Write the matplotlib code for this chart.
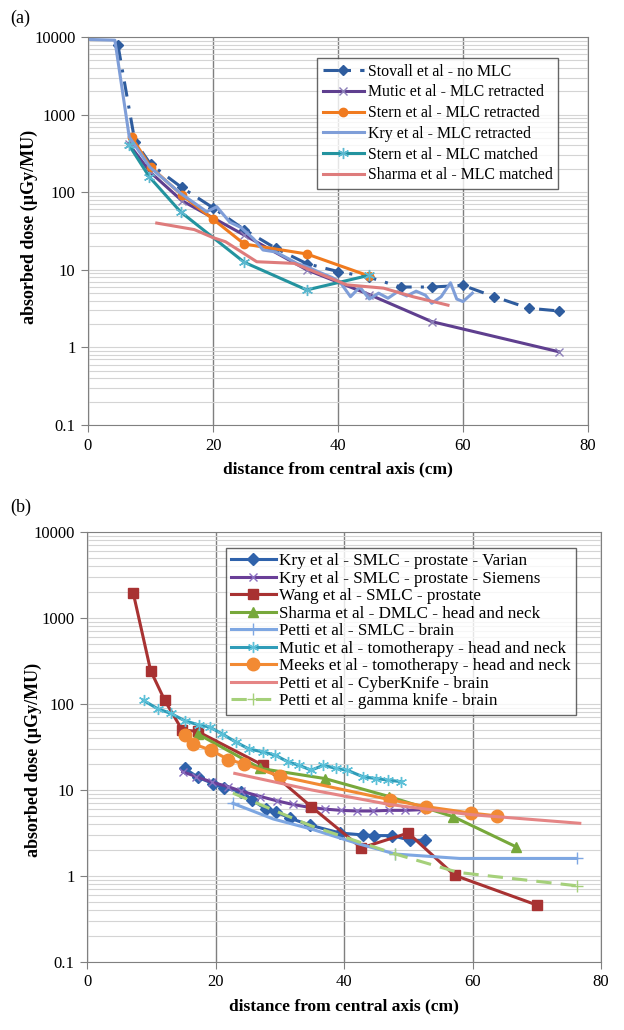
import numpy as np
import matplotlib
matplotlib.use('Agg')
import matplotlib.pyplot as plt
from matplotlib.ticker import LogLocator, NullFormatter

# ---- panel (a) data ----
stovall_x = [4.8, 7.5, 10, 15, 20, 25, 30, 35, 40, 45, 50, 55, 60, 65, 70.5, 75.3]
stovall_y = [7800, 450, 230, 115, 63, 33, 19, 12, 9.5, 8, 6.0, 6.0, 6.3, 4.5, 3.2, 2.95]

mutic_a_x = [6.5, 10, 15, 25, 35, 45, 55, 75.3]
mutic_a_y = [420, 180, 78, 28, 10, 4.8, 2.15, 0.88]

stern_ret_x = [7, 10, 15, 20, 25, 35, 45]
stern_ret_y = [510, 212, 92, 45, 21.5, 16, 8.3]

kry_a_x = [0.3, 4.3, 6.6, 9.9, 14.7, 19, 20.6, 22.7, 24.5, 26.5, 28, 30, 32, 33.5, 35, 37, 39,
           40.3, 42, 43.5, 45, 46.5, 48, 49.5, 51, 52.5, 54, 55, 56.5, 58, 59, 60, 61.5]
kry_a_y = [9300, 9100, 515, 210, 98, 56, 65, 41, 35, 25, 18, 17, 14, 12, 11, 9.3, 8,
           7, 4.5, 6, 4.2, 5, 4.3, 5.2, 4.6, 5.3, 4.7, 3.7, 4.5, 6.8, 4.2, 3.9, 5]

stern_mat_x = [6.6, 9.8, 14.8, 25, 35, 45]
stern_mat_y = [400, 158, 56, 12.5, 5.5, 8.5]

sharma_a_x = [11, 17, 20, 22, 27, 33, 41.4, 47.3, 52, 57.6]
sharma_a_y = [40, 33, 26, 23, 12.7, 12.1, 6.4, 5.8, 4.5, 3.5]

# ---- panel (b) data ----
kryv_x = [15.2, 17.3, 19.6, 21.3, 24, 25.7, 27.8, 29.4, 31.6, 34.7, 39.4, 43, 44.7, 47.5, 50.3, 52.6]
kryv_y = [17.8, 14, 11.9, 10.6, 9.6, 7.7, 6.0, 5.6, 4.7, 3.9, 3.16, 3.0, 2.95, 2.95, 2.6, 2.6]

krys_x = [14.9, 17, 19.5, 22, 24, 27, 29.5, 32, 34.5, 37, 39.5, 42, 44.5, 47, 49.5, 52]
krys_y = [16.3, 14.3, 12.3, 10.9, 9.7, 8.4, 7.5, 6.8, 6.3, 6.0, 5.8, 5.7, 5.7, 5.8, 5.8, 5.9]

wang_x = [7.2, 9.9, 12.1, 14.8, 17.2, 27.4, 34.9, 42.7, 50, 57.2, 70]
wang_y = [1950, 245, 110, 50, 48, 19.4, 6.4, 2.12, 3.16, 1.02, 0.46]

sharma_b_x = [17.2, 27, 37, 47, 57, 66.7]
sharma_b_y = [45, 17.8, 13.6, 8.4, 4.9, 2.2]

petti_smlc_x = [22.7, 29, 35, 42, 48, 58, 76.2]
petti_smlc_y = [7.0, 4.6, 3.5, 2.4, 1.8, 1.6, 1.6]

mutic_b_x = [8.8, 11, 13, 15.2, 17.4, 19.1, 21, 23.2, 25.2, 27.4, 29.3, 31.3, 33, 34.9, 36.8,
             38.8, 40.5, 43, 45, 46.9, 48.9]
mutic_b_y = [110, 88, 78, 64, 57, 54, 45, 36, 30, 27.7, 25.4, 21.2, 19.4, 17, 19.4,
             17.8, 17, 14.2, 13.6, 13, 12.5]

meeks_x = [15.2, 16.5, 19.3, 22, 24.5, 30, 47.2, 52.8, 59.7, 63.8]
meeks_y = [43.5, 34.5, 29, 22.6, 20, 14.5, 7.7, 6.4, 5.4, 5.0]

cyber_x = [23, 35, 47, 59.4, 76.7]
cyber_y = [15.6, 10, 6.8, 5.2, 4.1]

gamma_x = [22.7, 35, 48, 57.8, 76.2]
gamma_y = [9.2, 3.8, 1.8, 1.1, 0.77]

plt.rcParams['font.family'] = ['Liberation Serif', 'DejaVu Serif']

fig = plt.figure(figsize=(6.24, 10.30), dpi=100)
W, H = 624.0, 1030.0


def make_axes(left, right, top, bottom):
    return fig.add_axes([left / W, 1 - bottom / H, (right - left) / W, (bottom - top) / H])


def style(ax, ylab_x, ylab_y):
    ax.set_yscale('log')
    ax.set_xlim(0, 80)
    ax.set_ylim(0.1, 10000)
    ax.set_xticks([0, 20, 40, 60, 80])
    ax.set_yticks([0.1, 1, 10, 100, 1000, 10000])
    ax.set_yticklabels(['0.1', '1', '10', '100', '1000', '10000'])
    ax.yaxis.set_minor_locator(LogLocator(base=10, subs=np.arange(2, 10)))
    ax.yaxis.set_minor_formatter(NullFormatter())
    ax.tick_params(axis='y', which='minor', length=0)
    ax.tick_params(axis='both', which='major', length=5, color='#808080',
                   labelsize=12, pad=4)
    ax.grid(True, axis='y', which='both', color='#d4d4d4', linewidth=0.8)
    ax.grid(True, axis='x', which='major', color='#7f7f7f', linewidth=1.0)
    for s in ax.spines.values():
        s.set_color('#808080')
    ax.set_axisbelow(True)
    ax.set_xlabel('distance from central axis (cm)', fontsize=12.5, fontweight='bold', labelpad=6)
    ax.set_ylabel('absorbed dose (\u00b5Gy/MU)', fontsize=13, fontweight='bold')
    ax.yaxis.set_label_coords(ylab_x, ylab_y)


# ---- (a) ----
ax1 = make_axes(88, 588, 37, 425)
style(ax1, (38 - 88) / 500, 0.51)
ax1.plot(stovall_x, stovall_y, color='#2e5c9e', lw=2.2, ls=(0, (5, 3, 1, 3)),
         marker='D', ms=5, label='Stovall et al - no MLC')
ax1.plot(mutic_a_x, mutic_a_y, color='#5f3f8f', lw=2.2, marker='x', ms=6,
         mec='#8c7fb8', label='Mutic et al - MLC retracted')
ax1.plot(stern_ret_x, stern_ret_y, color='#f07a1e', lw=2.2, marker='o', ms=6,
         label='Stern et al - MLC retracted')
ax1.plot(kry_a_x, kry_a_y, color='#7f9ed8', lw=2.2, label='Kry et al - MLC retracted')
ax1.plot(stern_mat_x, stern_mat_y, color='#23939f', lw=2.2, marker=(6, 2, 0), ms=8,
         mec='#5bb8d0', label='Stern et al - MLC matched')
ax1.plot(sharma_a_x, sharma_a_y, color='#de7c7c', lw=2.2, label='Sharma et al - MLC matched')
leg1 = ax1.legend(loc='upper left', bbox_to_anchor=((317 - 88) / 500, (425 - 58) / 388),
                  fontsize=11.4, frameon=True, fancybox=False, edgecolor='#404040',
                  handlelength=2.6, handletextpad=0.25, labelspacing=0.3, borderpad=0.35,
                  borderaxespad=0)
leg1.get_frame().set_linewidth(1.0)
fig.text(10 / W, 1 - 18 / H, '(a)', fontsize=13, va='center', ha='left')

# ---- (b) ----
ax2 = make_axes(87, 601, 532, 962)
style(ax2, (42 - 87) / 514, 0.47)
ax2.plot(kryv_x, kryv_y, color='#2f62ab', lw=2.2, marker='D', ms=6,
         label='Kry et al - SMLC - prostate - Varian')
ax2.plot(krys_x, krys_y, color='#6a3f98', lw=2.2, marker='x', ms=6, mec='#8a6fc0',
         label='Kry et al - SMLC - prostate - Siemens')
ax2.plot(wang_x, wang_y, color='#a83232', lw=2.2, marker='s', ms=7,
         label='Wang et al - SMLC - prostate')
ax2.plot(sharma_b_x, sharma_b_y, color='#77a83b', lw=2.2, marker='^', ms=7,
         label='Sharma et al - DMLC - head and neck')
ax2.plot(petti_smlc_x, petti_smlc_y, color='#7ea7e2', lw=2.2, marker='+', ms=8,
         markevery=[0, 4, 6], label='Petti et al - SMLC - brain')
ax2.plot(mutic_b_x, mutic_b_y, color='#2f9cb8', lw=2.2, marker=(6, 2, 0), ms=8,
         mec='#5cc0d8', label='Mutic et al - tomotherapy - head and neck')
ax2.plot(meeks_x, meeks_y, color='#f28a33', lw=2.2, marker='o', ms=9,
         label='Meeks et al - tomotherapy - head and neck')
ax2.plot(cyber_x, cyber_y, color='#e58585', lw=2.2, label='Petti et al - CyberKnife - brain')
ax2.plot(gamma_x, gamma_y, color='#a5d07a', lw=2.2, ls=(0, (5, 3)), marker='+', ms=8,
         markevery=[2, 4], label='Petti et al - gamma knife - brain')
leg2 = ax2.legend(loc='upper left', bbox_to_anchor=((226 - 87) / 514, (962 - 548) / 430),
                  fontsize=12.3, frameon=True, fancybox=False, edgecolor='#404040',
                  handlelength=2.6, handletextpad=0.2, labelspacing=0.09, borderpad=0.3,
                  borderaxespad=0)
leg2.get_frame().set_linewidth(1.0)
fig.text(10 / W, 1 - 507 / H, '(b)', fontsize=13, va='center', ha='left')

fig.savefig('out.png', dpi=100, facecolor='white')
